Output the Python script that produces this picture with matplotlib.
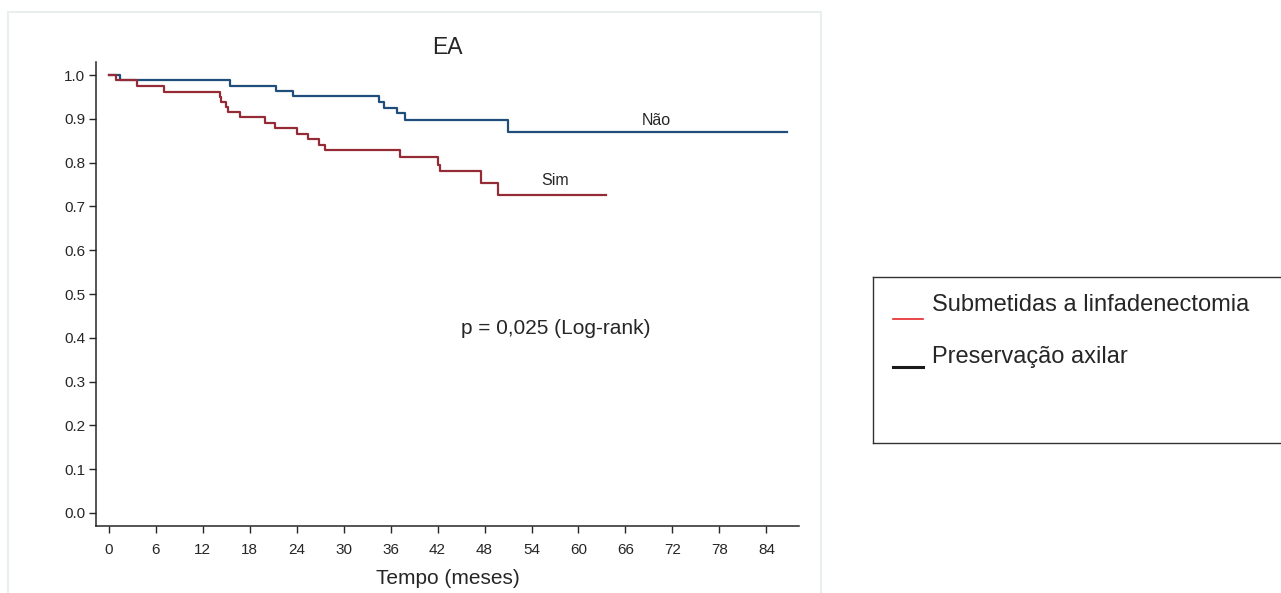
import matplotlib
matplotlib.use('Agg')
import matplotlib.pyplot as plt
from matplotlib.patches import Rectangle
from matplotlib.lines import Line2D

plt.rcParams['font.family'] = ['Liberation Sans', 'DejaVu Sans']

# Kaplan-Meier steps
nao_t = [0, 1.5, 15.5, 21.4, 23.6, 34.5, 35.2, 36.8, 37.9, 51.0, 86.6]
nao_s = [1.0, 0.988, 0.976, 0.964, 0.952, 0.939, 0.925, 0.914, 0.897, 0.871, 0.871]

sim_t = [0, 0.9, 3.6, 7.1, 14.2, 14.3, 15.0, 15.3, 16.8, 20.0, 21.2, 24.0,
         25.5, 26.9, 27.6, 37.2, 42.1, 42.3, 47.6, 49.7, 63.5]
sim_s = [1.0, 0.988, 0.976, 0.962, 0.950, 0.939, 0.928, 0.915, 0.903, 0.890, 0.878, 0.865,
         0.853, 0.841, 0.828, 0.812, 0.795, 0.780, 0.754, 0.726, 0.726]

xticks = list(range(0, 85, 6))
yticks = [i / 10 for i in range(11)]

txt = '#262626'
blue = '#1e4e79'
red = '#952b36'

fig = plt.figure(figsize=(12.81, 5.93), dpi=100)

# light frame around the plot panel
fig.add_artist(Rectangle((8 / 1281, -0.01), (821 - 8) / 1281, 1 - 12 / 593 + 0.01,
                         transform=fig.transFigure, fill=False,
                         edgecolor='#e9eeee', lw=1.5))

ax = fig.add_axes([96.3 / 1281, 1 - 526 / 593, (799.3 - 96.3) / 1281, (526 - 62) / 593])
ax.step(nao_t, nao_s, where='post', color=blue, lw=1.6)
ax.step(sim_t, sim_s, where='post', color=red, lw=1.6)

ax.set_xlim(-1.58, 88.2)
ax.set_ylim(-0.0297, 1.0297)
ax.set_xticks(xticks)
ax.set_yticks(yticks)
ax.set_yticklabels(['%.1f' % v for v in yticks])
for s in ['top', 'right']:
    ax.spines[s].set_visible(False)
for s in ['left', 'bottom']:
    ax.spines[s].set_linewidth(1.1)
    ax.spines[s].set_color(txt)
ax.tick_params(axis='both', length=5, width=1, colors=txt, labelsize=11)
ax.tick_params(axis='x', pad=7)
ax.tick_params(axis='y', pad=3)

ax.set_title('EA', fontsize=16.5, color=txt, pad=6)
ax.set_xlabel('Tempo (meses)', fontsize=15, color=txt, labelpad=9)

ax.text(70.0, 0.897, 'Não', fontsize=11.5, color=txt, ha='center', va='center')
ax.text(57.0, 0.760, 'Sim', fontsize=11.5, color=txt, ha='center', va='center')
ax.text(57.1, 0.422, 'p = 0,025 (Log-rank)', fontsize=15, color=txt, ha='center', va='center')

# legend box, cut at the right edge
lg = fig.add_axes([873 / 1281, 1 - 443 / 593, 412 / 1281, 166 / 593])
lg.set_xlim(0, 412)
lg.set_ylim(0, 166)
lg.set_xticks([])
lg.set_yticks([])
for s in lg.spines.values():
    s.set_color('#333333')
    s.set_linewidth(1.0)
lg.add_line(Line2D([20, 50], [124, 124], color='#e8262a', lw=1.2))
lg.add_line(Line2D([20, 50], [76, 76], color='#1a1a1a', lw=2.2))
lg.text(59, 138, 'Submetidas a linfadenectomia', fontsize=17, color=txt, va='center')
lg.text(59, 86, 'Preservação axilar', fontsize=17, color=txt, va='center')

fig.savefig('out.png', dpi=100)
